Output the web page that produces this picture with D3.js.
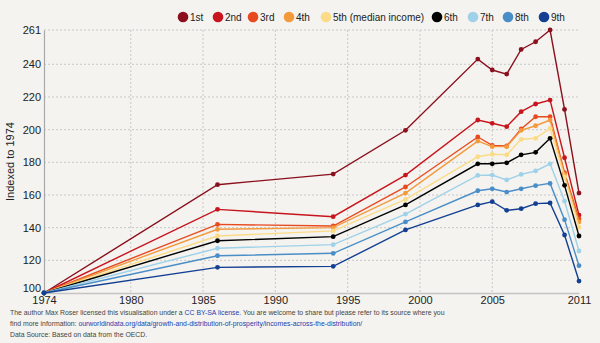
<!DOCTYPE html>
<html>
<head>
<meta charset="utf-8">
<script src="https://d3js.org/d3.v7.min.js"></script>
<style>
  html, body { margin: 0; padding: 0; background: #f4f3ef; }
  svg { display: block; font-family: "Liberation Sans", Arial, sans-serif; }
  .grid line { stroke: #c8c8c8; stroke-dasharray: 2,2; }
  .tick text { fill: #222; font-size: 11px; }
  .foot { font-size: 8px; fill: #444; }
  .foot .lnk { fill: #1b3fb0; }
</style>
</head>
<body>
<svg id="chart" width="600" height="343"></svg>
<script>
// years of the observations
var years = [1974, 1986, 1994, 1999, 2004, 2005, 2006, 2007, 2008, 2009, 2010, 2011];

// income deciles, indexed to 1974 = 100
var names = ["1st", "2nd", "3rd", "4th", "5th (median income)", "6th", "7th", "8th", "9th"];
var colors = ["#8b0f1c", "#c8141c", "#e84a20", "#f39a3d", "#fcdb86", "#000000", "#9fd1e9", "#4a8ec8", "#123f92"];

var d1 = [100, 166.3, 172.8, 199.6, 243.2, 236.5, 234.0, 249.1, 253.8, 261.0, 212.4, 161.2];
var d2 = [100, 151.2, 146.7, 172.2, 205.9, 203.9, 201.8, 211.0, 215.7, 218.1, 182.8, 147.7];
var d3v = [100, 142.0, 141.0, 164.9, 195.5, 190.4, 190.0, 200.4, 207.9, 207.9, 173.6, 145.3];
var d4 = [100, 139.0, 140.0, 161.2, 193.0, 189.6, 189.6, 199.6, 202.4, 205.9, 172.6, 143.5];
var d5 = [100, 134.9, 138.0, 157.3, 183.4, 184.9, 184.6, 194.1, 194.7, 200.8, 171.0, 140.2];
var d6 = [100, 132.0, 134.5, 153.9, 179.1, 179.1, 179.7, 184.6, 186.1, 194.7, 165.9, 134.9];
var d7 = [100, 127.4, 129.6, 148.3, 172.0, 172.2, 169.2, 172.6, 174.7, 179.1, 156.3, 125.7];
var d8 = [100, 122.8, 124.3, 143.5, 162.6, 163.8, 161.8, 163.8, 165.7, 167.1, 144.9, 116.7];
var d9 = [100, 115.7, 116.3, 138.6, 153.9, 155.9, 150.6, 151.6, 154.7, 155.1, 135.5, 107.3];
var series = [d1, d2, d3v, d4, d5, d6, d7, d8, d9];

var xTicks = [1974, 1980, 1985, 1990, 1995, 2000, 2005, 2011];
var yTicks = [100, 120, 140, 160, 180, 200, 220, 240, 261];

(function () {
    var svg = d3.select("#chart");
    var left = 44, right = 579, plotTop = 30, bottom = 293;

    var x = d3.scaleLinear().domain([1974, 2011]).range([left, right]);
    var y = d3.scaleLinear().domain([100, 261]).range([bottom, plotTop]);

    // grid
    var grid = svg.append("g").attr("class", "grid");
    grid.selectAll(".h").data(yTicks.slice(1)).enter().append("line")
        .attr("x1", left).attr("x2", right)
        .attr("y1", function (d) { return y(d); }).attr("y2", function (d) { return y(d); });
    grid.selectAll(".v").data(xTicks.slice(1, -1)).enter().append("line")
        .attr("y1", plotTop).attr("y2", bottom)
        .attr("x1", function (d) { return x(d); }).attr("x2", function (d) { return x(d); });

    // axes
    var xAxis = svg.append("g").attr("transform", "translate(0," + bottom + ")")
        .call(d3.axisBottom(x).tickValues(xTicks).tickFormat(d3.format("d")).tickSize(0).tickPadding(3));
    xAxis.select(".domain").attr("stroke", "#c4c4c4").attr("stroke-width", 1.5);

    var yAxis = svg.append("g").attr("transform", "translate(" + left + ",0)")
        .call(d3.axisLeft(y).tickValues(yTicks).tickSize(0).tickPadding(3));
    yAxis.select(".domain").attr("stroke", "#a8a8a8").attr("stroke-width", 1.2);
    // lift the bottom label off the year labels
    yAxis.selectAll(".tick text").filter(function (d) { return d === 100; }).attr("dy", "-0.12em");

    svg.append("text")
        .attr("transform", "translate(14," + ((plotTop + bottom) / 2) + ") rotate(-90)")
        .attr("text-anchor", "middle")
        .style("font-size", "11px").attr("fill", "#222")
        .text("Indexed to 1974");

    // lines and points
    var line = d3.line()
        .x(function (d, i) { return x(years[i]); })
        .y(function (d) { return y(d); });

    var groups = svg.selectAll(".series").data(series).enter().append("g")
        .attr("class", "series");

    groups.append("path")
        .attr("d", function (d) { return line(d); })
        .attr("fill", "none")
        .attr("stroke", function (d, i) { return colors[i]; })
        .attr("stroke-width", 1.4);

    groups.each(function (d, i) {
        d3.select(this).selectAll("circle").data(d).enter().append("circle")
            .attr("cx", function (v, j) { return x(years[j]); })
            .attr("cy", function (v) { return y(v); })
            .attr("r", 2.4)
            .attr("fill", colors[i]);
    });

    // legend
    var legendX = [183, 218, 253, 289, 326, 437, 473, 508, 544];
    var legend = svg.selectAll(".leg").data(names).enter().append("g")
        .attr("transform", function (d, i) { return "translate(" + legendX[i] + ",17)"; });
    legend.append("circle").attr("r", 5.3).attr("fill", function (d, i) { return colors[i]; });
    legend.append("text").attr("x", 7).attr("dy", "0.35em")
        .style("font-size", "10px").attr("fill", "#222")
        .text(function (d) { return d; });

    // footer, squeezed horizontally to fit its narrow face
    var foot = svg.append("text").attr("class", "foot").attr("transform", "translate(10,315) scale(0.86,1)");
    foot.append("tspan").text("The author Max Roser licensed this visualisation under a ");
    foot.append("tspan").attr("class", "lnk").text("CC BY-SA license.");
    foot.append("tspan").text(" You are welcome to share but please refer to its source where you");

    var foot2 = svg.append("text").attr("class", "foot").attr("transform", "translate(10,326) scale(0.86,1)");
    foot2.append("tspan").text("find more information: ");
    foot2.append("tspan").attr("class", "lnk").text("ourworldindata.org/data/growth-and-distribution-of-prosperity/incomes-across-the-distribution/");

    svg.append("text").attr("class", "foot").attr("transform", "translate(10,337) scale(0.86,1)")
        .text("Data Source: Based on data from the OECD.");
})();
</script>
</body>
</html>
